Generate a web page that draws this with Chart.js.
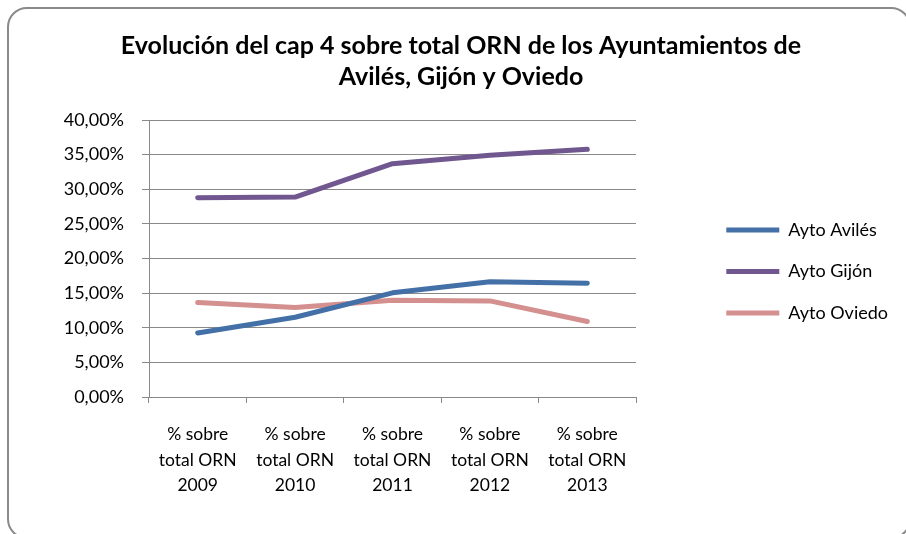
<!DOCTYPE html>
<html>
<head>
<meta charset="utf-8">
<script src="https://cdn.jsdelivr.net/npm/chart.js@4.4.1/dist/chart.umd.min.js"></script>
<style>
  body { margin: 0; background: #fff; }
  #wrap { position: relative; width: 906px; height: 534px; overflow: hidden; }
  #frame {
    position: absolute; left: 7px; top: 7px; width: 904px; height: 532px;
    border: 2px solid #8a8a8a; border-radius: 20px; box-sizing: border-box;
  }
  #chart { position: absolute; left: 0; top: 0; }
</style>
</head>
<body>
<div id="wrap">
  <div id="frame"></div>
  <canvas id="chart" width="906" height="534"></canvas>
</div>
<script>
const categories = [
  ['% sobre', 'total ORN', '2009'],
  ['% sobre', 'total ORN', '2010'],
  ['% sobre', 'total ORN', '2011'],
  ['% sobre', 'total ORN', '2012'],
  ['% sobre', 'total ORN', '2013']
];
const aviles = [9.25, 11.52, 15.04, 16.63, 16.44];
const gijon = [28.77, 28.87, 33.69, 34.90, 35.77];
const oviedo = [13.65, 12.92, 13.98, 13.88, 10.90];
const seriesNames = ['Ayto Avilés', 'Ayto Gijón', 'Ayto Oviedo'];
const titleLines = ['Evolución del cap 4 sobre total ORN de los Ayuntamientos de', 'Avilés, Gijón y Oviedo'];

const FONT = 'Lato';
const GRID = '#898989';
const PAD_L = 24;
const PAD_R = 8;
const PLOT_LEFT = 149;
const PLOT_RIGHT = 636;
const PLOT_BOTTOM = 397;

Chart.defaults.color = '#000';
Chart.defaults.font.family = FONT;

function line(label, data, color) {
  return {
    label,
    data,
    borderColor: color,
    backgroundColor: color,
    borderWidth: 5,
    borderCapStyle: 'round',
    borderJoinStyle: 'round',
    tension: 0,
    fill: false,
    pointRadius: 0
  };
}

new Chart(document.getElementById('chart'), {
  type: 'line',
  data: {
    labels: categories,
    datasets: [
      line(seriesNames[0], aviles, '#4470a8'),
      line(seriesNames[1], gijon, '#71578f'),
      line(seriesNames[2], oviedo, '#d48f8f')
    ]
  },
  options: {
    responsive: false,
    animation: false,
    layout: { padding: { left: PAD_L, right: PAD_R, top: 0, bottom: 0 } },
    scales: {
      x: {
        offset: true,
        grid: { offset: true, drawOnChartArea: false, drawTicks: true, tickLength: 6, color: GRID },
        border: { color: GRID, width: 1 },
        ticks: { maxRotation: 0, autoSkip: false, padding: 19, font: { size: 17.5, lineHeight: 25.5 / 17.5 } },
        afterFit(scale) { scale.height = scale.chart.height - PLOT_BOTTOM; }
      },
      y: {
        min: 0,
        max: 40,
        grid: { color: GRID, tickLength: 7 },
        border: { color: GRID, width: 1 },
        ticks: {
          stepSize: 5,
          padding: 18,
          font: { size: 18 },
          callback: v => v.toFixed(2).replace('.', ',') + '%'
        },
        afterFit(scale) { scale.width = PLOT_LEFT - PAD_L; }
      },
      gap: {
        type: 'linear',
        position: 'right',
        display: true,
        grid: { display: false, drawTicks: false },
        border: { display: false },
        ticks: { display: false },
        afterFit(scale) {
          const c = scale.chart;
          scale.width = Math.max(0, c.width - PAD_R - c.legend.width - PLOT_RIGHT);
        }
      }
    },
    plugins: {
      title: {
        display: true,
        text: titleLines,
        font: { size: 25, weight: 'bold', lineHeight: 31 / 25 },
        padding: { top: 30.5, bottom: 27.5 }
      },
      legend: {
        position: 'right',
        maxWidth: 300,
        title: { display: true, text: '', padding: 0, font: { size: 9, lineHeight: 1 } },
        labels: {
          usePointStyle: true,
          pointStyle: 'line',
          pointStyleWidth: 53,
          padding: 23.5,
          font: { size: 18 }
        }
      },
      tooltip: { enabled: false }
    }
  }
});
</script>
</body>
</html>
